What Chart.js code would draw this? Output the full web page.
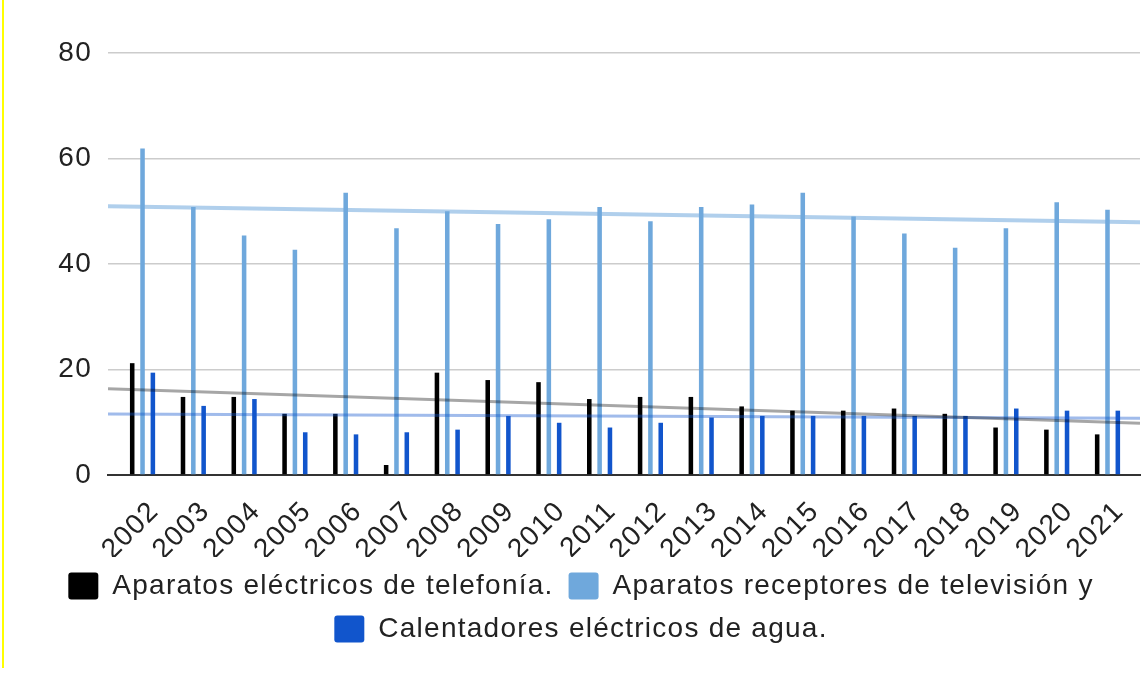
<!DOCTYPE html>
<html>
<head>
<meta charset="utf-8">
<script src="https://cdn.jsdelivr.net/npm/chart.js@4.4.1/dist/chart.umd.min.js"></script>
<style>
  html, body { margin: 0; padding: 0; background: #ffffff; }
  #wrap { position: relative; width: 1142px; height: 673px; background: #ffffff; }
  #edge { position: absolute; left: 2px; top: 0; width: 2px; height: 668px; background: #ffff00; }
</style>
</head>
<body>
<div id="wrap">
  <canvas id="chart"></canvas>
  <div id="edge"></div>
</div>
<script>
const categories = ['2002','2003','2004','2005','2006','2007','2008','2009','2010','2011',
                    '2012','2013','2014','2015','2016','2017','2018','2019','2020','2021'];
const seriesNames = ['Aparatos eléctricos de telefonía.',
                     'Aparatos receptores de televisión y',
                     'Calentadores eléctricos de agua.'];
const telefonia = [21.2,14.8,14.8,11.6,11.6,1.9,19.4,18.0,17.6,14.4,14.8,14.8,13.0,12.2,12.2,12.6,11.6,9.0,8.6,7.7];
const television = [61.9,50.8,45.4,42.7,53.5,46.8,50.0,47.6,48.5,50.8,48.1,50.8,51.3,53.5,49.0,45.8,43.1,46.8,51.7,50.3];
const calentadores = [19.4,13.1,14.4,8.1,7.7,8.1,8.6,11.2,9.9,9.0,9.9,10.9,11.2,11.2,11.2,11.2,11.2,12.6,12.2,12.2];
const yTicks = [0, 20, 40, 60, 80];

const colors = ['#000000', '#6fa8dc', '#1155cc'];
const trendColors = ['rgba(0,0,0,0.35)', 'rgba(111,168,220,0.55)', 'rgba(17,85,204,0.4)'];
const trendWidths = [3, 4, 3];
const X_MIN = -0.68, X_MAX = 19.64;
const FONT = '"Liberation Sans", Arial, sans-serif';
const TXT = '#222222';
const SPACING = '1.25px';

function toPoints(arr) { return arr.map((v, i) => ({ x: i, y: v })); }
function trend(arr) {
  const n = arr.length;
  let sx = 0, sy = 0, sxx = 0, sxy = 0;
  arr.forEach((v, i) => { sx += i; sy += v; sxx += i * i; sxy += i * v; });
  const m = (n * sxy - sx * sy) / (n * sxx - sx * sx);
  const b = (sy - m * sx) / n;
  return [{ x: X_MIN, y: m * X_MIN + b }, { x: X_MAX, y: m * X_MAX + b }];
}

const series = [telefonia, television, calentadores];
const barSets = series.map((arr, k) => ({
  type: 'bar',
  label: seriesNames[k],
  data: toPoints(arr),
  backgroundColor: colors[k],
  borderWidth: 0,
  categoryPercentage: 0.61,
  barPercentage: 0.44,
  order: 2
}));
const trendSets = series.map((arr, k) => ({
  type: 'line',
  label: 'trend' + k,
  isTrend: true,
  data: trend(arr),
  borderColor: trendColors[k],
  borderWidth: trendWidths[k],
  pointRadius: 0,
  fill: false,
  order: 1
}));

const spacingPlugin = {
  id: 'spacing',
  beforeUpdate(chart) { chart.ctx.letterSpacing = SPACING; },
  beforeLayout(chart) { chart.ctx.letterSpacing = SPACING; },
  beforeDraw(chart) { chart.ctx.letterSpacing = SPACING; },
  resize(chart) { chart.ctx.letterSpacing = SPACING; }
};

new Chart(document.getElementById('chart'), {
  type: 'bar',
  data: { datasets: barSets.concat(trendSets) },
  plugins: [spacingPlugin],
  options: {
    responsive: true,
    maintainAspectRatio: false,
    animation: false,
    layout: { padding: { left: 22, right: 2, top: 53, bottom: 20 } },
    plugins: {
      tooltip: { enabled: false },
      legend: {
        position: 'bottom',
        labels: {
          filter: (item, data) => !data.datasets[item.datasetIndex].isTrend,
          font: { family: FONT, size: 28 },
          color: TXT,
          boxWidth: 30,
          boxHeight: 27,
          padding: 15,
          useBorderRadius: true,
          borderRadius: 3
        }
      }
    },
    scales: {
      x: {
        type: 'linear',
        min: X_MIN,
        max: X_MAX,
        offset: false,
        grid: { display: false, drawTicks: false },
        border: { display: true, color: '#333333', width: 2 },
        afterBuildTicks: (axis) => { axis.ticks = categories.map((c, i) => ({ value: i })); },
        afterFit: (axis) => { axis.paddingLeft = 0; axis.paddingRight = 0; axis.height = 82; },
        ticks: {
          autoSkip: false,
          minRotation: 45,
          maxRotation: 45,
          padding: 20,
          labelOffset: 12,
          color: TXT,
          font: { family: FONT, size: 28 },
          callback: (v) => categories[v] !== undefined ? categories[v] : ''
        }
      },
      y: {
        min: 0,
        max: 80,
        afterBuildTicks: (axis) => { axis.ticks = yTicks.map(v => ({ value: v })); },
        afterFit: (axis) => { axis.width = 86; },
        grid: { color: '#cccccc', lineWidth: 1.5, drawTicks: false },
        border: { display: false },
        ticks: {
          padding: 16,
          color: TXT,
          font: { family: FONT, size: 28 }
        }
      }
    }
  }
});
</script>
</body>
</html>
